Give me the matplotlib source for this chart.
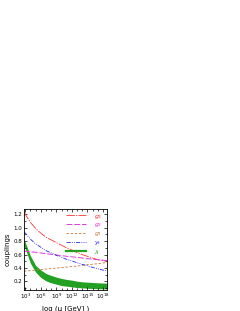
import numpy as np
import matplotlib
matplotlib.use("Agg")
import matplotlib.pyplot as plt
from matplotlib.lines import Line2D
from matplotlib.ticker import FixedLocator, MultipleLocator, NullFormatter

# log10 of the scale mu (GeV)
log_mu = [2.75, 3, 4, 5, 6, 7, 8, 9, 10, 11, 12, 13, 14, 15, 16, 17, 18, 19]

g3 = [1.236, 1.20, 1.08, 0.99, 0.92, 0.86, 0.82, 0.78, 0.74, 0.70, 0.67, 0.63, 0.60, 0.575, 0.55, 0.525, 0.51, 0.50]
g2 = [0.652, 0.65, 0.642, 0.635, 0.625, 0.615, 0.605, 0.595, 0.585, 0.575, 0.567, 0.56, 0.55, 0.54, 0.532, 0.525, 0.517, 0.51]
g1 = [0.352, 0.355, 0.362, 0.37, 0.377, 0.385, 0.392, 0.40, 0.407, 0.415, 0.422, 0.43, 0.44, 0.45, 0.457, 0.465, 0.475, 0.485]
yt = [0.937, 0.92, 0.83, 0.76, 0.71, 0.66, 0.625, 0.59, 0.56, 0.53, 0.505, 0.48, 0.455, 0.435, 0.41, 0.39, 0.37, 0.355]
lam_hi = [0.82, 0.78, 0.58, 0.44, 0.37, 0.32, 0.29, 0.265, 0.245, 0.23, 0.22, 0.205, 0.195, 0.19, 0.185, 0.18, 0.177, 0.175]
lam_lo = [0.72, 0.69, 0.47, 0.34, 0.26, 0.21, 0.18, 0.16, 0.14, 0.13, 0.12, 0.11, 0.105, 0.10, 0.095, 0.093, 0.09, 0.09]

names = ["$g_3$", "$g_2$", "$g_1$", "$y_t$", "$\\lambda$"]
colors = ["#ff3333", "#e03ce0", "#c8783c", "#2828e8", "#22a022"]

mu = 10.0 ** np.array(log_mu)

fig = plt.figure(figsize=(2.4, 3.11), dpi=100)
ax = fig.add_axes([0.1, 0.069, 0.346, 0.259])

ax.fill_between(mu, lam_lo, lam_hi, color=colors[4], lw=0)
ax.plot(mu, g3, color=colors[0], lw=0.6, ls=(0, (10, 1.5, 1.5, 1.5)))
ax.plot(mu, g2, color=colors[1], lw=0.7, ls=(0, (6, 2)))
ax.plot(mu, g1, color=colors[2], lw=0.6, ls=(0, (3, 2)))
ax.plot(mu, yt, color=colors[3], lw=0.6, ls=(0, (5, 1.5, 1, 1.5, 1, 1.5)))

ax.set_xscale("log")
ax.set_xlim(10 ** 2.75, 10 ** 18.8)
ax.set_ylim(0.08, 1.28)
ax.xaxis.set_major_locator(FixedLocator([1e3, 1e6, 1e9, 1e12, 1e15, 1e18]))
ax.xaxis.set_minor_locator(FixedLocator(10.0 ** np.arange(3, 19)))
ax.xaxis.set_minor_formatter(NullFormatter())
ax.yaxis.set_major_locator(MultipleLocator(0.2))
ax.yaxis.set_minor_locator(MultipleLocator(0.1))
ax.tick_params(which="both", direction="in", top=True, right=True, width=0.5, labelsize=4, pad=1.5)
ax.tick_params(which="major", length=2.2)
ax.tick_params(which="minor", length=1.3)
for s in ax.spines.values():
    s.set_linewidth(0.6)

ax.set_ylabel("couplings", fontsize=5, labelpad=2)
ax.set_xlabel("log (μ [GeV] )", fontsize=5, labelpad=3)

handles = [
    Line2D([], [], color=colors[0], lw=0.6, ls=(0, (10, 1.5, 1.5, 1.5))),
    Line2D([], [], color=colors[1], lw=0.7, ls=(0, (6, 2))),
    Line2D([], [], color=colors[2], lw=0.6, ls=(0, (3, 2))),
    Line2D([], [], color=colors[3], lw=0.6, ls=(0, (5, 1.5, 1, 1.5, 1, 1.5))),
    Line2D([], [], color=colors[4], lw=1.6),
]
leg = ax.legend(handles, names, loc="upper left", bbox_to_anchor=(0.5, 0.955),
                frameon=False, fontsize=4.5, handlelength=3.2, handletextpad=1.3,
                labelspacing=0.12, borderpad=0, borderaxespad=0)
for t, c in zip(leg.get_texts(), colors):
    t.set_color(c)

fig.savefig("out.png", dpi=100)
